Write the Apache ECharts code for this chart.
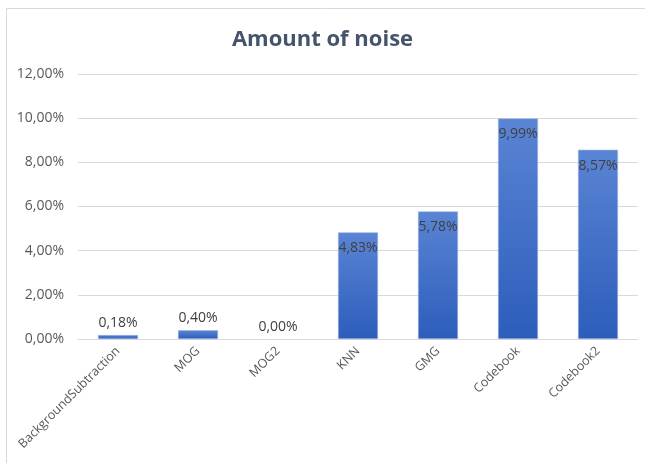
<!DOCTYPE html>
<html>
<head>
<meta charset="utf-8">
<script src="https://cdn.jsdelivr.net/npm/echarts@6/dist/echarts.min.js"></script>
<style>
  html, body { margin: 0; padding: 0; background: #fff; }
  #chart { width: 645px; height: 463px; }
</style>
</head>
<body>
<div id="chart"></div>
<script>
// Noise share per background-subtraction method (percent)
const categories = ['BackgroundSubtraction', 'MOG', 'MOG2', 'KNN', 'GMG', 'Codebook', 'Codebook2'];
const noiseValues = [0.18, 0.40, 0.00, 4.83, 5.78, 9.99, 8.57];
const yTicks = { min: 0, max: 12, interval: 2 };

const fmt = v => v.toFixed(2).replace('.', ',') + '%';

const chart = echarts.init(document.getElementById('chart'), null, { renderer: 'canvas' });

// Short bars get their label above the bar, tall bars inside near the top
const barData = noiseValues.map(v => ({
  value: v,
  itemStyle: { borderWidth: v > 0 ? 0.6 : 0 },
  label: v < 1
    ? { position: 'top', distance: 5 }
    : { position: 'insideTop', distance: 9 }
}));

chart.setOption({
  animation: false,
  graphic: [{
    type: 'rect',
    shape: { x: 6.5, y: 8.5, width: 700, height: 500 },
    style: { fill: 'none', stroke: '#d9d9d9', lineWidth: 1 },
    silent: true
  }],
  title: {
    text: 'Amount of noise',
    left: 'center',
    top: 24,
    textStyle: {
      fontFamily: 'Open Sans',
      fontWeight: 'bold',
      fontSize: 22,
      color: '#44546a'
    }
  },
  grid: { left: 78, right: 7, top: 74, bottom: 124 },
  xAxis: {
    type: 'category',
    data: categories,
    axisLine: { lineStyle: { color: '#d9d9d9' } },
    axisTick: { show: false },
    axisLabel: {
      rotate: 45,
      interval: 0,
      margin: 10,
      color: '#595959',
      fontFamily: 'Open Sans',
      fontSize: 12.5
    }
  },
  yAxis: {
    type: 'value',
    min: yTicks.min,
    max: yTicks.max,
    interval: yTicks.interval,
    axisLine: { show: false },
    axisTick: { show: false },
    splitLine: { lineStyle: { color: '#d9d9d9', width: 1 } },
    axisLabel: {
      margin: 14,
      color: '#595959',
      fontFamily: 'Open Sans',
      fontSize: 14,
      formatter: v => fmt(v)
    }
  },
  series: [{
    type: 'bar',
    data: barData,
    barWidth: '50%',
    itemStyle: {
      color: new echarts.graphic.LinearGradient(0, 0, 0, 1, [
        { offset: 0, color: '#5a84d4' },
        { offset: 1, color: '#2d5dbb' }
      ]),
      borderColor: '#9db5e6'
    },
    label: {
      show: true,
      color: '#404040',
      fontFamily: 'Open Sans',
      fontSize: 14,
      formatter: p => fmt(p.value)
    }
  }]
});
</script>
</body>
</html>
